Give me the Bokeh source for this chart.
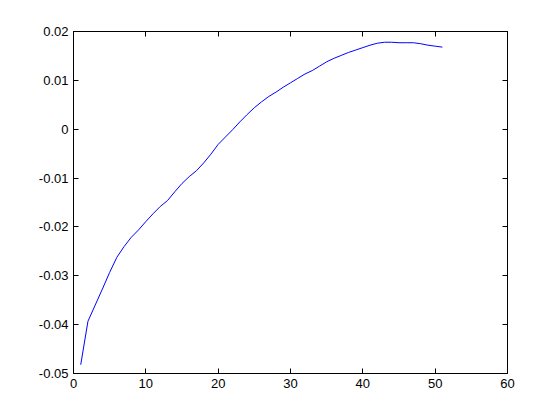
from bokeh.plotting import figure
from bokeh.models import LinearAxis, FixedTicker, Range1d
from bokeh.embed import file_html
from bokeh.resources import INLINE

x_values = list(range(1, 52))
y_values = [
    -0.0482, -0.0393, -0.0360, -0.0327, -0.0293, -0.0262, -0.0240, -0.0221, -0.0206, -0.0189,
    -0.0173, -0.0158, -0.0146, -0.0128, -0.0111, -0.0097, -0.0085, -0.0069, -0.0051, -0.0031,
    -0.0016, -0.0001, 0.0015, 0.0030, 0.0044, 0.0056, 0.0067, 0.0076, 0.0086, 0.0095,
    0.0104, 0.0113, 0.0120, 0.0129, 0.0138, 0.0145, 0.0151, 0.0157, 0.0162, 0.0167,
    0.0172, 0.0176, 0.0178, 0.0178, 0.0177, 0.0177, 0.0177, 0.0175, 0.0172, 0.0170,
    0.0168,
]
x_ticks = [0, 10, 20, 30, 40, 50, 60]
x_tick_labels = ["0", "10", "20", "30", "40", "50", "60"]
y_ticks = [-0.05, -0.04, -0.03, -0.02, -0.01, 0, 0.01, 0.02]
y_tick_labels = ["-0.05", "-0.04", "-0.03", "-0.02", "-0.01", "0", "0.01", "0.02"]

FONT = "Liberation Sans"

p = figure(
    frame_width=434, frame_height=342,
    x_range=Range1d(0, 60), y_range=Range1d(-0.05, 0.02),
    output_backend="svg", toolbar_location=None,
    min_border_left=73, min_border_right=45, min_border_top=31, min_border_bottom=38,
    x_axis_location=None, y_axis_location=None,
)
p.background_fill_color = "white"
p.border_fill_color = "white"
p.outline_line_color = "black"
p.outline_line_width = 1
p.grid.visible = False

def make_axis(ticks, labels, show_labels):
    ax = LinearAxis(ticker=FixedTicker(ticks=ticks))
    ax.major_label_overrides = {t: l for t, l in zip(ticks, labels)}
    ax.major_tick_in = 5
    ax.major_tick_out = 0
    ax.minor_tick_in = 0
    ax.minor_tick_out = 0
    ax.axis_line_color = "black"
    ax.major_tick_line_color = "black"
    ax.major_label_text_font = FONT
    ax.major_label_standoff = 5
    if show_labels:
        ax.major_label_text_font_size = "13px"
        ax.major_label_text_color = "black"
    else:
        ax.major_label_text_font_size = "8px"
        ax.major_label_text_color = None
    return ax

p.add_layout(make_axis(x_ticks, x_tick_labels, True), "below")
p.add_layout(make_axis(y_ticks, y_tick_labels, True), "left")
p.add_layout(make_axis(x_ticks, x_tick_labels, False), "above")
p.add_layout(make_axis(y_ticks, y_tick_labels, False), "right")

p.line(x_values, y_values, line_color="#0000ff", line_width=1)

open("out.html", "w").write(file_html(p, INLINE))
